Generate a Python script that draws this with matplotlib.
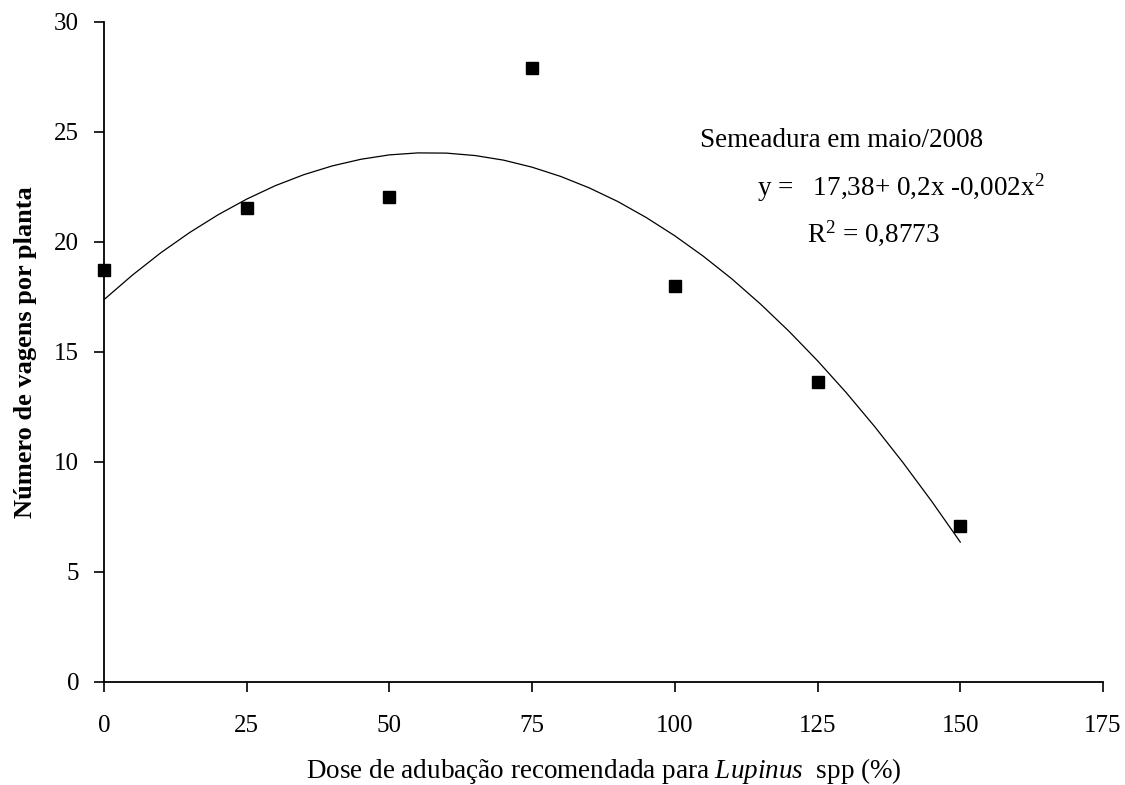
import matplotlib
matplotlib.use("Agg")
import matplotlib.pyplot as plt

plt.rcParams['font.family'] = ['Liberation Serif', 'DejaVu Serif']
plt.rcParams['mathtext.fontset'] = 'custom'
plt.rcParams['mathtext.rm'] = 'Liberation Serif'
plt.rcParams['mathtext.it'] = 'Liberation Serif:italic'
plt.rcParams['mathtext.bf'] = 'Liberation Serif:bold'

# Observed data
dose = [0, 25, 50, 75, 100, 125, 150]
vagens = [18.73, 21.55, 22.05, 27.9, 18.0, 13.64, 7.09]

# Trend line
curve_x = [0, 5, 10, 15, 20, 25, 30, 35, 40, 45, 50, 55, 60, 65, 70, 75,
           80, 85, 90, 95, 100, 105, 110, 115, 120, 125, 130, 135, 140, 145, 150]
curve_y = [17.38, 18.50, 19.52, 20.43, 21.24, 21.95, 22.56, 23.06, 23.46, 23.76,
           23.96, 24.05, 24.04, 23.93, 23.72, 23.40, 22.98, 22.46, 21.84, 21.11,
           20.28, 19.35, 18.32, 17.18, 15.94, 14.60, 13.16, 11.61, 9.96, 8.21, 6.36]

x_ticks = [0, 25, 50, 75, 100, 125, 150, 175]
y_ticks = [0, 5, 10, 15, 20, 25, 30]

fig = plt.figure(figsize=(11.25, 7.85), dpi=100)
ax = fig.add_axes([104/1125, 1-682/785, 999/1125, 660/785])

ax.plot(curve_x, curve_y, color='black', linewidth=0.9, clip_on=False)
ax.plot(dose, vagens, linestyle='none', marker='s', markersize=8.5,
        color='black', clip_on=False, zorder=5)

ax.set_xlim(0, 175)
ax.set_ylim(0, 30)
ax.set_xticks(x_ticks)
ax.set_yticks(y_ticks)
ax.tick_params(direction='out', length=7, width=1.2, labelsize=18, color='black')
ax.tick_params(axis='x', pad=17)
ax.tick_params(axis='y', pad=11)

for s in ['top', 'right']:
    ax.spines[s].set_visible(False)
for s in ['left', 'bottom']:
    ax.spines[s].set_linewidth(1.3)

ax.set_xlabel(r'Dose de adubação recomendada para $\mathit{Lupinus}$  spp (%)', fontsize=19.5)
ax.set_ylabel('Número de vagens por planta', fontsize=19, fontweight='bold')
ax.xaxis.set_label_coords(0.5, -0.1455)
ax.xaxis.label.set_verticalalignment('baseline')
ax.yaxis.set_label_coords(-0.0716, 0.5)
ax.yaxis.label.set_verticalalignment('baseline')

ax.text(104.4, 24.3, 'Semeadura em maio/2008', fontsize=19.5, va='baseline', ha='left')
ax.text(114.4, 22.12, r'y =   17,38+ 0,2x -0,002x$^{2}$', fontsize=19.5, va='baseline', ha='left')
ax.text(123.1, 20.03, r'R$^{2}$ = 0,8773', fontsize=19.5, va='baseline', ha='left')

fig.savefig('out.png', dpi=100, facecolor='white')
